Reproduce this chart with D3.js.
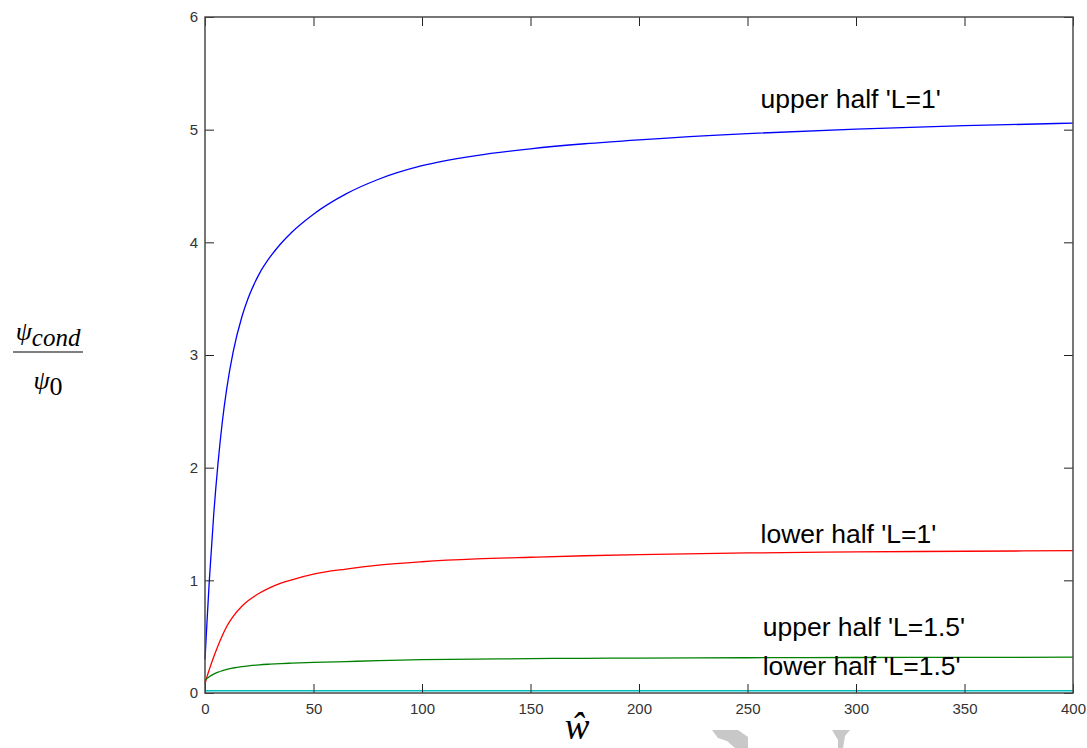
<!DOCTYPE html>
<html>
<head>
<meta charset="utf-8">
<script src="https://cdn.jsdelivr.net/npm/d3@7"></script>
<style>
  html, body { margin: 0; padding: 0; background: #fff; }
  svg { display: block; }
</style>
</head>
<body>
<svg id="chart" width="1087" height="748"></svg>
<script>
// Normalised frequency samples (x) and the four conductance ratio curves
const wHat = [0, 1, 2, 4, 6, 8, 10, 13, 17, 20, 25, 30, 35, 40, 50, 65, 80, 100, 125, 150, 175, 200, 250, 300, 350, 400];
const upperL1 = [0.30, 0.66, 1.00, 1.58, 2.04, 2.41, 2.70, 3.03, 3.34, 3.51, 3.72, 3.87, 3.99, 4.09, 4.25, 4.43, 4.56, 4.68, 4.77, 4.83, 4.875, 4.91, 4.965, 5.005, 5.035, 5.058];
const lowerL1 = [0.08, 0.15, 0.21, 0.32, 0.42, 0.51, 0.59, 0.68, 0.77, 0.82, 0.885, 0.935, 0.975, 1.005, 1.055, 1.10, 1.135, 1.165, 1.19, 1.205, 1.218, 1.228, 1.243, 1.252, 1.258, 1.263];
const upperL15 = [0.11, 0.13, 0.145, 0.168, 0.185, 0.198, 0.21, 0.222, 0.234, 0.241, 0.25, 0.256, 0.261, 0.265, 0.271, 0.279, 0.287, 0.296, 0.301, 0.305, 0.308, 0.31, 0.313, 0.315, 0.316, 0.318];
const lowerL15 = [0.02, 0.02, 0.02, 0.02, 0.02, 0.02, 0.02, 0.02, 0.02, 0.02, 0.02, 0.02, 0.02, 0.02, 0.02, 0.02, 0.02, 0.02, 0.02, 0.02, 0.02, 0.02, 0.02, 0.02, 0.02, 0.02];

const seriesNames = ["upper half 'L=1'", "lower half 'L=1'", "upper half 'L=1.5'", "lower half 'L=1.5'"];
const seriesValues = [upperL1, lowerL1, upperL15, lowerL15];
const seriesColors = ["#0000ff", "#ff0000", "#008000", "#00bfbf"];
// where each curve's annotation sits (data units)
const labelX = [256, 256, 257, 257];
const labelY = [5.19, 1.33, 0.505, 0.16];

const xTicks = [0, 50, 100, 150, 200, 250, 300, 350, 400];
const yTicks = [0, 1, 2, 3, 4, 5, 6];

const svg = d3.select("#chart");
const margin = { left: 205, top: 17, right: 14, bottom: 55 };
const W = 1087 - margin.left - margin.right;
const H = 748 - margin.top - margin.bottom;

const x = d3.scaleLinear().domain([0, 400]).range([margin.left, margin.left + W]);
const y = d3.scaleLinear().domain([0, 6]).range([margin.top + H, margin.top]);

const tickLen = 9;
const tickFont = "Arial, 'Liberation Sans', sans-serif";
const fmt = d3.format("d");

// curves
const line = d3.line().x(d => d[0]).y(d => d[1]).curve(d3.curveMonotoneX);
seriesValues.forEach((vals, i) => {
  const pts = wHat.map((w, j) => [x(w), y(vals[j])]);
  svg.append("path")
    .attr("d", line(pts))
    .attr("fill", "none")
    .attr("stroke", seriesColors[i])
    .attr("stroke-width", 1.3);
});

// axes with inward ticks (mirrored on top and right)
const bottomAxis = d3.axisBottom(x).tickValues(xTicks).tickFormat(fmt).tickSizeInner(-tickLen).tickSizeOuter(0).tickPadding(10);
const topAxis = d3.axisTop(x).tickValues(xTicks).tickSizeInner(-tickLen).tickSizeOuter(0).tickFormat("");
const leftAxis = d3.axisLeft(y).tickValues(yTicks).tickFormat(fmt).tickSizeInner(-tickLen).tickSizeOuter(0).tickPadding(7);
const rightAxis = d3.axisRight(y).tickValues(yTicks).tickSizeInner(-tickLen).tickSizeOuter(0).tickFormat("");

function styleAxis(g) {
  g.select(".domain").remove();
  g.selectAll(".tick line").attr("stroke", "#222").attr("stroke-width", 1);
  g.selectAll(".tick text").attr("fill", "#333").style("font-family", tickFont).style("font-size", "15px");
}

svg.append("g").attr("transform", `translate(0,${margin.top + H})`).call(bottomAxis).call(styleAxis);
svg.append("g").attr("transform", `translate(0,${margin.top})`).call(topAxis).call(styleAxis);
svg.append("g").attr("transform", `translate(${margin.left},0)`).call(leftAxis).call(styleAxis);
svg.append("g").attr("transform", `translate(${margin.left + W},0)`).call(rightAxis).call(styleAxis);

// frame
svg.append("rect")
  .attr("x", margin.left).attr("y", margin.top)
  .attr("width", W).attr("height", H)
  .attr("fill", "none").attr("stroke", "#4a4a4a").attr("stroke-width", 1.5);

// curve annotations
seriesNames.forEach((name, i) => {
  svg.append("text")
    .attr("x", x(labelX[i]))
    .attr("y", y(labelY[i]))
    .attr("fill", "#000")
    .style("font-family", "Arial, 'Liberation Sans', sans-serif")
    .style("font-size", "26.5px")
    .text(name);
});

// y-axis label: psi_cond / psi_0
const serif = "'Times New Roman', 'Liberation Serif', serif";
const yl = svg.append("g").attr("transform", "translate(48,0)");
const num = yl.append("text").attr("x", 0).attr("y", 340).attr("text-anchor", "middle")
  .style("font-family", serif).style("font-style", "italic").style("font-size", "26px").attr("fill", "#000");
num.append("tspan").text("\u03C8");
num.append("tspan").attr("dy", 6).style("font-size", "25px").text("cond");
yl.append("line").attr("x1", -35).attr("x2", 35).attr("y1", 352).attr("y2", 352)
  .attr("stroke", "#000").attr("stroke-width", 1.2);
const den = yl.append("text").attr("x", 0).attr("y", 389).attr("text-anchor", "middle")
  .style("font-family", serif).style("font-size", "26px").attr("fill", "#000");
den.append("tspan").style("font-style", "italic").text("\u03C8");
den.append("tspan").attr("dy", 6).text("0");

// x-axis label: w-hat
svg.append("text")
  .attr("x", 577).attr("y", 739)
  .attr("text-anchor", "middle")
  .style("font-family", serif).style("font-style", "italic").style("font-size", "37px")
  .attr("fill", "#000")
  .text("\u0175");

// light grey pointer shapes along the bottom edge
const greyShapes = [
  [[712, 730], [738, 730], [748, 737], [748, 748], [735, 748], [727, 741], [718, 738]],
  [[832, 730], [850, 730], [845, 736], [843, 748], [838, 748], [838, 740]]
];
greyShapes.forEach(p => {
  svg.append("polygon")
    .attr("points", p.map(q => q.join(",")).join(" "))
    .attr("fill", "#c8c8c8");
});
</script>
</body>
</html>
